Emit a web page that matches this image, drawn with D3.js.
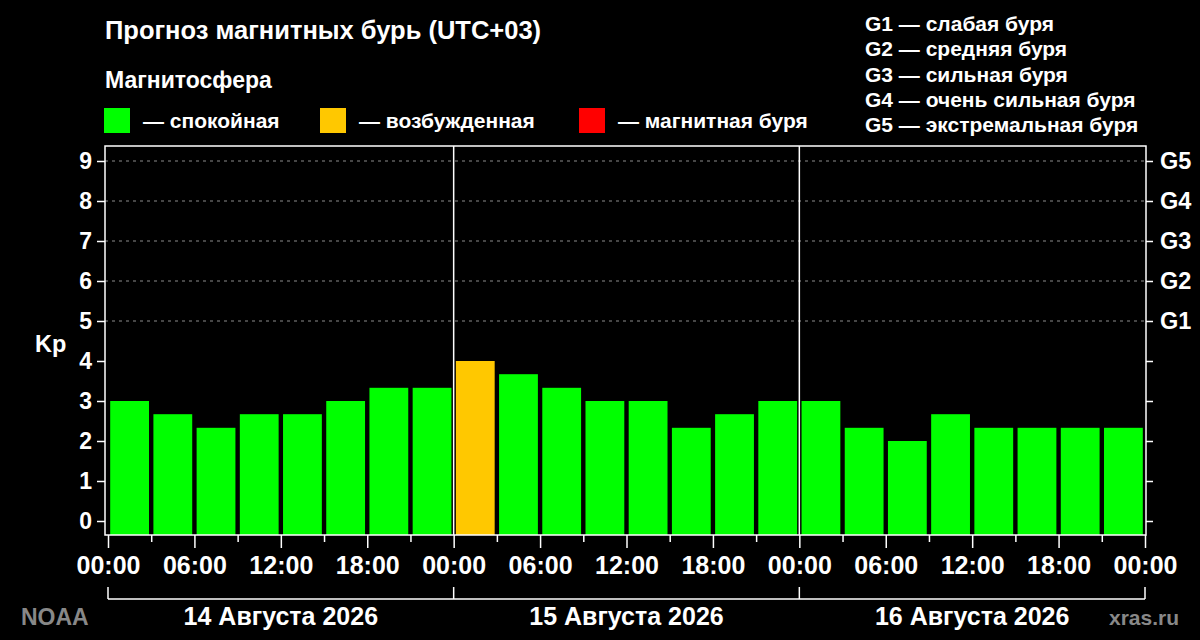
<!DOCTYPE html>
<html lang="ru">
<head>
    <meta charset="UTF-8">
    <title>Прогноз магнитных бурь</title>
    <style>
        body {
            margin: 0;
            padding: 0;
            background: #000;
        }

        svg text {
            font-family: "Liberation Sans", Arial, sans-serif;
            font-weight: bold;
            fill: #fff;
        }

        .grid line {
            stroke: #8c8c8c;
            stroke-width: 1;
            stroke-dasharray: 3, 4;
        }
    </style>
</head>
<body>
    <script src="https://d3js.org/d3.v7.min.js"></script>
    <script>
        // Данные прогноза (Kp каждые 3 часа, UTC+03)
        const days = ["14 Августа 2026", "15 Августа 2026", "16 Августа 2026"];
        const kpValues = [
            3.00, 2.67, 2.33, 2.67, 2.67, 3.00, 3.33, 3.33,
            4.00, 3.67, 3.33, 3.00, 3.00, 2.33, 2.67, 3.00,
            3.00, 2.33, 2.00, 2.67, 2.33, 2.33, 2.33, 2.33
        ];
        const hourLabels = ["00:00", "06:00", "12:00", "18:00"];
        const kpTicks = [0, 1, 2, 3, 4, 5, 6, 7, 8, 9];
        const gLevels = ["G1", "G2", "G3", "G4", "G5"];
        const gKp = [5, 6, 7, 8, 9];
        const gNames = ["слабая буря", "средняя буря", "сильная буря", "очень сильная буря", "экстремальная буря"];
        const stateNames = ["спокойная", "возбужденная", "магнитная буря"];
        const stateColors = ["#00ff00", "#ffc800", "#ff0000"];

        const W = 1200, H = 640;
        const plot = { left: 105, right: 1146, top: 146, bottom: 535 };
        const hoursPerBar = 3;
        const totalHours = kpValues.length * hoursPerBar;

        const svg = d3.select("body").append("svg")
            .attr("width", W)
            .attr("height", H)
            .style("background", "#000");

        const x = d3.scaleLinear()
            .domain([0, totalHours])
            .range([108, 1145]);

        const y = d3.scaleLinear()
            .domain([-0.35, 9.375])
            .range([plot.bottom, plot.top]);

        function kpColor(v) {
            if (v >= 5) return stateColors[2];
            if (v >= 4) return stateColors[1];
            return stateColors[0];
        }

        // Заголовки
        svg.append("text")
            .attr("x", 105).attr("y", 39)
            .style("font-size", "25.5px")
            .text("Прогноз магнитных бурь (UTC+03)");

        svg.append("text")
            .attr("x", 105).attr("y", 88)
            .style("font-size", "23px")
            .text("Магнитосфера");

        // Легенда состояний
        const legendX = [104, 320, 579];
        const legend = svg.append("g");
        stateNames.forEach((name, i) => {
            legend.append("rect")
                .attr("x", legendX[i]).attr("y", 108)
                .attr("width", 26).attr("height", 25)
                .attr("fill", stateColors[i]);
            legend.append("text")
                .attr("x", legendX[i] + 39).attr("y", 128)
                .style("font-size", "21px")
                .text("— " + name);
        });

        // Легенда уровней G
        gLevels.forEach((g, i) => {
            svg.append("text")
                .attr("x", 865).attr("y", 31 + i * 25.3)
                .style("font-size", "21px")
                .text(g + " — " + gNames[i]);
        });

        // Сетка (только уровни бурь)
        svg.append("g")
            .attr("class", "grid")
            .selectAll("line")
            .data(gKp)
            .enter().append("line")
            .attr("x1", plot.left).attr("x2", plot.right)
            .attr("y1", d => y(d)).attr("y2", d => y(d));

        // Столбики
        const barInset = 2.2;
        svg.append("g")
            .selectAll("rect")
            .data(kpValues)
            .enter().append("rect")
            .attr("x", (d, i) => x(i * hoursPerBar) + barInset)
            .attr("width", (d, i) => x((i + 1) * hoursPerBar) - x(i * hoursPerBar) - 2 * barInset)
            .attr("y", d => y(d))
            .attr("height", d => plot.bottom - y(d))
            .attr("fill", d => kpColor(d));

        // Разделители дней
        svg.append("g")
            .selectAll("line")
            .data(d3.range(1, days.length))
            .enter().append("line")
            .attr("x1", d => x(d * 24)).attr("x2", d => x(d * 24))
            .attr("y1", plot.top).attr("y2", plot.bottom)
            .attr("stroke", "#fff").attr("stroke-width", 1.5);

        // Рамка
        svg.append("rect")
            .attr("x", plot.left).attr("y", plot.top)
            .attr("width", plot.right - plot.left)
            .attr("height", plot.bottom - plot.top)
            .attr("fill", "none")
            .attr("stroke", "#fff").attr("stroke-width", 1.5);

        // Ось Kp слева
        const yLeft = svg.append("g")
            .attr("transform", "translate(" + plot.left + ",0)")
            .call(d3.axisLeft(y).tickValues(kpTicks).tickSize(8).tickPadding(5).tickFormat(d3.format("d")));
        yLeft.select(".domain").remove();
        yLeft.selectAll("line").attr("stroke", "#fff").attr("stroke-width", 1.5);
        yLeft.selectAll("text").style("font-size", "23px").attr("fill", "#fff");

        svg.append("text")
            .attr("x", 35).attr("y", 352)
            .style("font-size", "23.5px")
            .text("Kp");

        // Ось G справа
        const yRight = svg.append("g")
            .attr("transform", "translate(" + plot.right + ",0)")
            .call(d3.axisRight(y).tickValues(kpTicks).tickSize(7).tickPadding(7)
                .tickFormat(d => gKp.indexOf(d) >= 0 ? gLevels[gKp.indexOf(d)] : ""));
        yRight.select(".domain").remove();
        yRight.selectAll("line").attr("stroke", "#fff").attr("stroke-width", 1.5);
        yRight.selectAll("text").style("font-size", "23.5px").attr("fill", "#fff");

        // Ось времени
        const minorTicks = d3.range(0, totalHours + 1, 3).filter(h => h % 6 !== 0);
        const majorTicks = d3.range(0, totalHours + 1, 6);

        const xMinor = svg.append("g")
            .attr("transform", "translate(0," + plot.bottom + ")")
            .call(d3.axisBottom(x).tickValues(minorTicks).tickSize(7).tickFormat(""));
        xMinor.select(".domain").remove();
        xMinor.selectAll("line").attr("stroke", "#fff").attr("stroke-width", 1.5);

        const xMajor = svg.append("g")
            .attr("transform", "translate(0," + plot.bottom + ")")
            .call(d3.axisBottom(x).tickValues(majorTicks).tickSize(13).tickPadding(8)
                .tickFormat(h => hourLabels[(h % 24) / 6]));
        xMajor.select(".domain").remove();
        xMajor.selectAll("line").attr("stroke", "#fff").attr("stroke-width", 1.5);
        xMajor.selectAll("text").style("font-size", "25px").attr("fill", "#fff");

        // Скобка дат
        const bracketY = 599;
        const bracket = svg.append("g")
            .attr("stroke", "#fff").attr("stroke-width", 1.5);
        bracket.append("line")
            .attr("x1", x(0)).attr("x2", x(totalHours))
            .attr("y1", bracketY).attr("y2", bracketY);
        bracket.selectAll(".edge")
            .data(d3.range(0, days.length + 1))
            .enter().append("line")
            .attr("x1", d => x(d * 24)).attr("x2", d => x(d * 24))
            .attr("y1", bracketY - 12).attr("y2", bracketY);

        svg.append("g")
            .selectAll("text")
            .data(days)
            .enter().append("text")
            .attr("x", (d, i) => x(i * 24 + 12))
            .attr("y", 625)
            .attr("text-anchor", "middle")
            .style("font-size", "25px")
            .text(d => d);

        // Источники
        svg.append("text")
            .attr("x", 21).attr("y", 625)
            .style("font-size", "23px")
            .style("fill", "#888")
            .text("NOAA");

        svg.append("text")
            .attr("x", 1179).attr("y", 625)
            .attr("text-anchor", "end")
            .style("font-size", "21px")
            .style("fill", "#888")
            .text("xras.ru");
    </script>
</body>
</html>
